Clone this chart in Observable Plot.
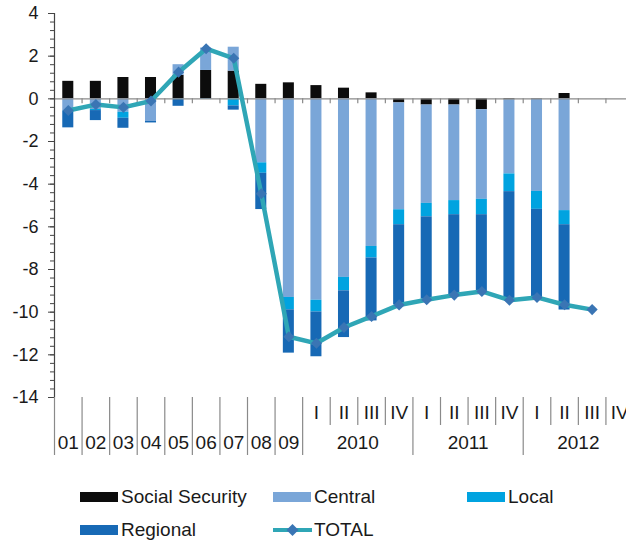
<!DOCTYPE html>
<html><head><meta charset="utf-8">
<script src="https://cdn.jsdelivr.net/npm/d3@7"></script>
<script src="https://cdn.jsdelivr.net/npm/@observablehq/plot@0.6"></script>
<style>
html,body{margin:0;padding:0;background:#fff;overflow:hidden;}
#wrap{position:relative;width:626px;height:545px;font-family:"Liberation Sans",Arial,sans-serif;overflow:hidden;}
#wrap svg{display:block;}
.leg{position:absolute;font-size:19px;color:#1a1a1a;display:flex;align-items:center;height:22px;line-height:22px;white-space:nowrap;}
.sw{width:38px;height:10px;margin-right:3px;}
</style></head><body><div id="wrap"></div>
<script>
const categories = ["01","02","03","04","05","06","07","08","09","2010 I","2010 II","2010 III","2010 IV","2011 I","2011 II","2011 III","2011 IV","2012 I","2012 II","2012 III","2012 IV"];
const tickLabels = ["01","02","03","04","05","06","07","08","09","I","II","III","IV","I","II","III","IV","I","II","III","IV"];
const years = ["2010","2011","2012"];
const socialSecurity = [0.82,0.82,1.0,1.0,1.1,1.33,1.3,0.68,0.75,0.62,0.5,0.28,-0.19,-0.29,-0.29,-0.51,-0.05,-0.02,0.25,null,null];
const central = [-0.55,-0.5,-0.63,-1.06,0.5,1.05,1.12,-3.0,-9.31,-9.44,-8.37,-6.92,-5.01,-4.61,-4.48,-4.2,-3.47,-4.32,-5.24,null,null];
const local = [-0.02,-0.05,-0.28,0,-0.02,-0.01,-0.33,-0.49,-0.58,-0.55,-0.63,-0.54,-0.7,-0.63,-0.66,-0.72,-0.83,-0.84,-0.66,null,null];
const regional = [-0.79,-0.47,-0.47,-0.07,-0.33,-0.02,-0.2,-1.7,-2.03,-2.1,-2.19,-2.95,-3.76,-3.86,-3.77,-3.6,-5.09,-4.13,-4.0,null,null];
const total = [-0.55,-0.27,-0.4,-0.1,1.25,2.35,1.9,-4.45,-11.15,-11.46,-10.72,-10.2,-9.66,-9.42,-9.2,-9.03,-9.44,-9.31,-9.65,-9.88,null];

const seriesNames = ["Social Security","Central","Local","Regional"];
const seriesColors = ["#0c0c0c","#7aa6d8","#00a3e0","#1769b5"];
const totalColor = "#2fa6b6";
const markerColor = "#3a75b4";

const seriesValues = [socialSecurity, central, local, regional];
const barRows = [];
seriesNames.forEach((s, k) => seriesValues[k].forEach((v, i) => {
  if (v != null) barRows.push({i, series: s, value: v});
}));
const totalRows = total.map((v, i) => ({i, value: v})).filter(d => d.value != null);

const idx = categories.map((c, i) => i);
const monthly = idx.filter(i => i < 9);
const quarters = idx.filter(i => i >= 9);
const yearCenters = years.map((y, k) => 9 + 4 * k + 2);
const boundaries = d3.range(0, categories.length + 1);
const isLong = b => b <= 9 || (b - 9) % 4 === 0;
const longB = boundaries.filter(isLong);
const shortB = boundaries.filter(b => !isLong(b));

const fontFamily = '"Liberation Sans", Arial, sans-serif';

const chart = Plot.plot({
  width: 626,
  height: 470,
  marginLeft: 54,
  marginRight: -7,
  marginTop: 13,
  marginBottom: 73,
  style: {fontFamily, background: "#fff", overflow: "visible"},
  x: {type: "linear", domain: [0, categories.length], axis: null},
  y: {domain: [-14, 4], axis: null},
  color: {domain: seriesNames, range: seriesColors},
  marks: [
    Plot.rectY(barRows, Plot.stackY({
      x1: d => d.i + 0.3, x2: d => d.i + 0.7, y: "value", fill: "series", order: seriesNames
    })),
    Plot.ruleY([0], {stroke: "#8a8a8a", strokeWidth: 1.2}),
    Plot.ruleX(boundaries.filter(b => b > 0), {x: d => d, y1: 0, y2: 0, insetBottom: -5, stroke: "#8a8a8a", strokeWidth: 1.2}),
    Plot.ruleX([0], {y1: -14, y2: 4, stroke: "#444", strokeWidth: 1.2}),
    Plot.axisY({ticks: d3.range(-14, 4.001, 0.4), tickSize: 4, text: null, label: null, stroke: "#444"}),
    Plot.axisY({ticks: d3.range(-14, 4.001, 2), tickSize: 6, tickPadding: 10, tickFormat: d => String(d), label: null, fontSize: 18, fill: "#1a1a1a", stroke: "#444"}),
    Plot.ruleX(longB, {x: d => d, y1: -14, y2: -14, insetBottom: -58, stroke: "#8a8a8a", strokeWidth: 1.2}),
    Plot.ruleX(shortB, {x: d => d, y1: -14, y2: -14, insetBottom: -28, stroke: "#8a8a8a", strokeWidth: 1.2}),
    Plot.axisX({ticks: quarters.map(i => i + 0.5), tickFormat: d => tickLabels[Math.floor(d)], tickSize: 0, tickPadding: 8, label: null, fontSize: 19, fill: "#1a1a1a"}),
    Plot.axisX({ticks: monthly.map(i => i + 0.5), tickFormat: d => tickLabels[Math.floor(d)], tickSize: 0, tickPadding: 38, label: null, fontSize: 19, fill: "#1a1a1a"}),
    Plot.axisX({ticks: yearCenters, tickFormat: d => years[(d - 11) / 4], tickSize: 0, tickPadding: 38, label: null, fontSize: 19, fill: "#1a1a1a"}),
    Plot.line(totalRows, {x: d => d.i + 0.5, y: "value", stroke: totalColor, strokeWidth: 4.5}),
    Plot.dot(totalRows, {x: d => d.i + 0.5, y: "value", symbol: "diamond2", r: 5, fill: markerColor, stroke: "none"})
  ]
});

const wrap = document.getElementById("wrap");
wrap.appendChild(chart);

const legendItems = [
  {name: "Social Security", color: seriesColors[0], left: 80, top: 486},
  {name: "Central", color: seriesColors[1], left: 273, top: 486},
  {name: "Local", color: seriesColors[2], left: 467, top: 486},
  {name: "Regional", color: seriesColors[3], left: 80, top: 519}
];
legendItems.forEach(it => {
  const div = document.createElement("div");
  div.className = "leg";
  div.style.left = it.left + "px";
  div.style.top = it.top + "px";
  div.innerHTML = `<span class="sw" style="background:${it.color}"></span><span>${it.name}</span>`;
  wrap.appendChild(div);
});
const tdiv = document.createElement("div");
tdiv.className = "leg";
tdiv.style.left = "273px";
tdiv.style.top = "519px";
tdiv.innerHTML = `<svg width="39" height="14" style="margin-right:2px"><line x1="0" y1="7" x2="39" y2="7" stroke="${totalColor}" stroke-width="4"/><path d="M19.5 1 L25.5 7 L19.5 13 L13.5 7 Z" fill="${markerColor}"/></svg><span>TOTAL</span>`;
wrap.appendChild(tdiv);
</script>
</body></html>
